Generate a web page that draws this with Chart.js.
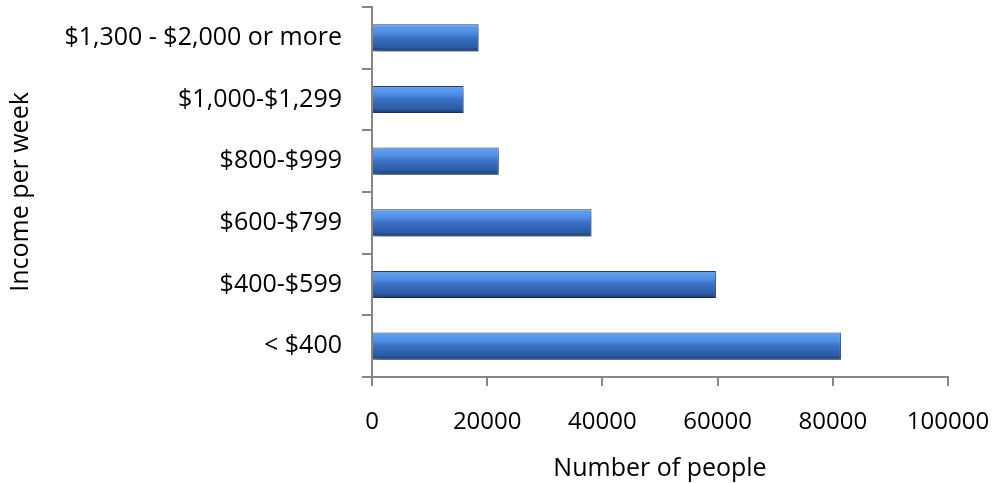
<!DOCTYPE html>
<html>
<head>
<meta charset="utf-8">
<script src="https://cdn.jsdelivr.net/npm/chart.js@4/dist/chart.umd.min.js"></script>
<style>
  html, body { margin: 0; padding: 0; background: #fff; }
  #wrap { width: 997px; height: 484px; }
</style>
</head>
<body>
<div id="wrap"><canvas id="incomeChart"></canvas></div>
<script>
"use strict";

// data
var incomeBands = [
  '$1,300 - $2,000 or more',
  '$1,000-$1,299',
  '$800-$999',
  '$600-$799',
  '$400-$599',
  '< $400'
];
var peopleCounts = [18500, 15900, 22000, 38100, 59700, 81400];
var xTicks = [0, 20000, 40000, 60000, 80000, 100000];

var fontFamily = "'Open Sans', 'Noto Sans', sans-serif";
var axisGrey = '#868686';
var barPct = 0.44;

// vertical "3d" gradient for each bar, from the bar's own slot on the y scale
function barFill(ctx) {
  var chart = ctx.chart;
  var yScale = chart.scales.y;
  if (!chart.chartArea || !yScale || ctx.dataIndex === undefined) return '#3f78cc';
  var yc = yScale.getPixelForValue(ctx.dataIndex);
  var half = (yScale.height / incomeBands.length) * barPct / 2;
  if (!isFinite(yc) || !isFinite(half) || half <= 0) return '#3f78cc';
  var g = chart.ctx.createLinearGradient(0, yc - half, 0, yc + half);
  g.addColorStop(0, '#8faad2');
  g.addColorStop(0.07, '#5d9ef0');
  g.addColorStop(0.3, '#4f90e6');
  g.addColorStop(0.5, '#3a70c4');
  g.addColorStop(0.85, '#2c5aa4');
  g.addColorStop(1, '#1b376c');
  return g;
}

var shadowPlugin = {
  id: 'barShadow',
  beforeDatasetsDraw: function (chart) {
    var c = chart.ctx;
    c.save();
    c.shadowColor = 'rgba(0,0,0,0.35)';
    c.shadowBlur = 6;
    c.shadowOffsetX = 3;
    c.shadowOffsetY = 4;
  },
  afterDatasetsDraw: function (chart) {
    chart.ctx.restore();
  }
};

// drop the automatic label overhang so the plot area sits where the picture has it
function noOverhang(scale) {
  scale.paddingTop = 0;
  scale.paddingBottom = 0;
  scale.paddingLeft = 0;
  scale.paddingRight = 0;
}

new Chart(document.getElementById('incomeChart'), {
  type: 'bar',
  data: {
    labels: incomeBands,
    datasets: [{
      data: peopleCounts,
      backgroundColor: barFill,
      borderColor: '#22417a',
      borderWidth: 1,
      categoryPercentage: 1,
      barPercentage: barPct
    }]
  },
  plugins: [shadowPlugin],
  options: {
    indexAxis: 'y',
    responsive: true,
    maintainAspectRatio: false,
    animation: false,
    layout: {
      padding: { top: 7, right: 49, bottom: 0, left: 6 }
    },
    plugins: {
      legend: { display: false },
      tooltip: { enabled: false }
    },
    scales: {
      x: {
        min: 0,
        max: 100000,
        afterBuildTicks: function (scale) {
          scale.ticks = xTicks.map(function (v) { return { value: v }; });
        },
        afterFit: function (scale) { scale.height = 107; noOverhang(scale); },
        border: { color: axisGrey, width: 2 },
        grid: { drawOnChartArea: false, color: axisGrey, tickLength: 9, lineWidth: 2 },
        ticks: {
          color: '#000',
          padding: 22,
          maxRotation: 0,
          font: { family: fontFamily, size: 24 },
          callback: function (v) { return String(v); }
        },
        title: {
          display: true,
          text: 'Number of people',
          color: '#000',
          padding: { top: 8, bottom: 0 },
          font: { family: fontFamily, size: 25 }
        }
      },
      y: {
        afterFit: function (scale) { scale.width = 366; noOverhang(scale); },
        border: { color: axisGrey, width: 2 },
        grid: { drawOnChartArea: false, color: axisGrey, tickLength: 10, lineWidth: 2, offset: true },
        ticks: {
          color: '#000',
          padding: 20,
          font: { family: fontFamily, size: 25 }
        },
        title: {
          display: true,
          text: 'Income per week',
          color: '#000',
          padding: { top: 0, bottom: 0 },
          font: { family: fontFamily, size: 25 }
        }
      }
    }
  }
});
</script>
</body>
</html>
